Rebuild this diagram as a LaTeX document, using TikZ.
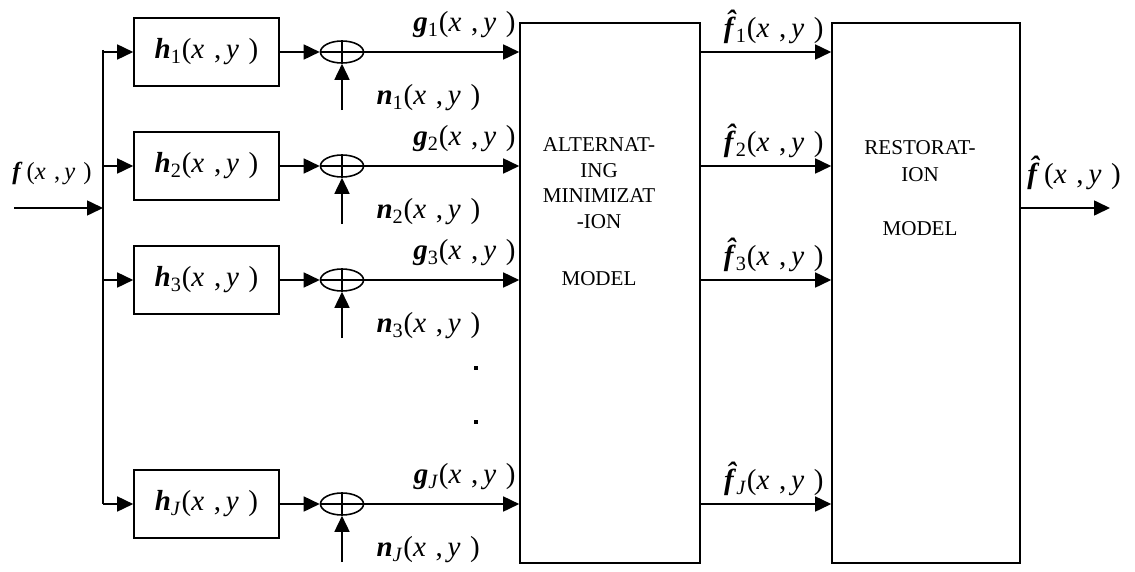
\documentclass[tikz,border=0pt]{standalone}
\usepackage{fontspec}
\setmainfont{Liberation Serif}
\usetikzlibrary{arrows.meta,shapes.geometric}

\newcommand{\bvar}[1]{\textbf{\textit{#1}}}
\newcommand{\fhat}{\bvar{\accent"02C6 f}}
\newcommand{\sig}[2]{\bvar{#1}\textsubscript{#2}(\textit{x}\,\,,\,\textit{y}\,\,)}

\tikzset{
    filterbox/.style={draw, minimum width=29mm, minimum height=13.6mm, font=\fontsize{16.5}{18}\selectfont},
    adder/.style={draw, ellipse, minimum width=8.6mm, minimum height=4.4mm, inner sep=0pt},
    modelbox/.style={draw, minimum height=108mm},
    sigtext/.style={font=\fontsize{16.5}{18}\selectfont, inner sep=1pt},
    modeltext/.style={align=center, inner sep=0pt},
}

\begin{document}
\begin{tikzpicture}[x=0.2mm, y=-0.2mm, line width=0.9pt, >={Triangle[length=3.2mm,width=3mm]}]
    \useasboundingbox (0,0) rectangle (1135,571);

    \node[modelbox, minimum width=36mm] (alt) at (610,293) {};
    \node[modelbox, minimum width=37.6mm] (rest) at (926,293) {};
    \node[modeltext, anchor=north, font=\fontsize{12}{14.5}\selectfont] (alttext) at (599,137)
        {ALTERNAT-\\ING\\MINIMIZAT\\-ION\\[18pt]MODEL};
    \node[modeltext, anchor=north, font=\fontsize{12}{15.4}\selectfont] (resttext) at (920,140)
        {RESTORAT-\\ION\\[15pt]MODEL};

    \coordinate (in) at (14,208);
    \coordinate (bus) at (103,208);
    \coordinate (busTop) at (103,50);
    \coordinate (busBot) at (103,504);
    \draw[->] (in) -- (bus);
    \draw (busTop) -- (busBot);
    \node[sigtext, font=\fontsize{14}{16}\selectfont] (flabel) at (52,173) {\bvar{f}\,(\textit{x}\,\,,\,\textit{y}\,\,)};

    \foreach \i/\s/\y in {1/1/52,2/2/166,3/3/280,J/\textit{J}/504}{
        \coordinate (b\i) at (103,\y);
        \node[filterbox] (h\i) at (206.5,\y) {\sig{h}{\s}};
        \node[adder] (a\i) at (342,\y) {};
        \draw (a\i.north) -- (a\i.south) (a\i.west) -- (a\i.east);
        \coordinate (n\i) at (342,\y+58);
        \draw[->] (b\i) -- (h\i);
        \draw[->] (h\i) -- (a\i);
        \draw[->] (n\i) -- (a\i);
        \draw[->] (a\i) -- (alt.west |- a\i);
        \draw[->] (alt.east |- a\i) -- (rest.west |- a\i);
        \node[sigtext, anchor=west] (nl\i) at (374,\y+46) {\sig{n}{\s}};
        \node[sigtext, anchor=east] (gl\i) at (518,\y-27) {\sig{g}{\s}};
        \node[sigtext, anchor=east] (fl\i) at (826,\y-25) {\sig{\fhat}{\s}};
    }

    \fill (474,366) rectangle (478,370);
    \fill (474,420) rectangle (478,424);

    \coordinate (out) at (1110,208);
    \draw[->] (rest.east |- out) -- (out);
    \node[sigtext] (fhatlabel) at (1074,173) {\fhat\,(\textit{x}\,\,,\,\textit{y}\,\,)};
\end{tikzpicture}
\end{document}
